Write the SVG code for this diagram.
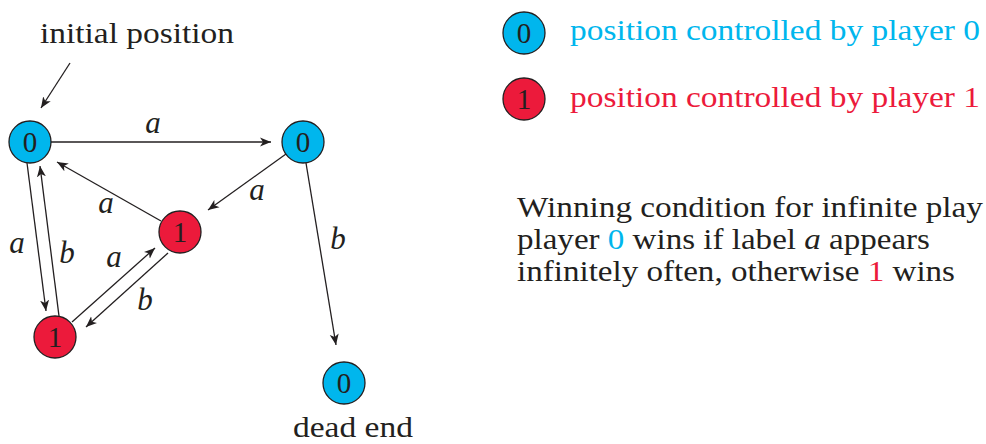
<svg xmlns="http://www.w3.org/2000/svg" width="986" height="444" viewBox="0 0 986 444">
<style>
text{font-family:"Liberation Serif","Times New Roman",serif;fill:#231f20}
.t{font-size:30px}
.lab{font-size:31px;font-style:italic}
.num{font-size:29px;text-anchor:middle}
.p0{fill:#00b6ed;stroke:#231f20;stroke-width:1.3}
.p1{fill:#ec1a3b;stroke:#231f20;stroke-width:1.3}
.e{stroke:#231f20;stroke-width:1.3;fill:none;marker-end:url(#arr)}
.cy{fill:#00b6ed}
.rd{fill:#ec1a3b}
</style>
<defs>
<marker id="arr" viewBox="-11 -5 12 10" refX="0" refY="0" markerWidth="12" markerHeight="10" markerUnits="userSpaceOnUse" orient="auto">
<path d="M0,0 L-11,-4.5 L-8,0 L-11,4.5 Z" fill="#231f20"/>
</marker>
</defs>
<g id="connectors">
<path class="e" d="M70,63 L41,108"/>
<path class="e" d="M51,142 L271,142"/>
<path class="e" d="M286,154 L208,210"/>
<path class="e" d="M161,221 L57,162"/>
<path class="e" d="M27,163 L46,311"/>
<path class="e" d="M59,316 L40,166"/>
<path class="e" d="M72,322 L155,248"/>
<path class="e" d="M168,253 L86,327"/>
<path class="e" d="M306,163 L336,345"/>
<text class="lab" x="153" y="133" text-anchor="middle">a</text>
<text class="lab" x="257" y="200" text-anchor="middle">a</text>
<text class="lab" x="106" y="213" text-anchor="middle">a</text>
<text class="lab" x="17" y="253" text-anchor="middle">a</text>
<text class="lab" x="67" y="263" text-anchor="middle">b</text>
<text class="lab" x="114" y="267" text-anchor="middle">a</text>
<text class="lab" x="145" y="310" text-anchor="middle">b</text>
<text class="lab" x="338" y="249" text-anchor="middle">b</text>
</g>
<g id="initial-label"><text class="t" x="40" y="43" textLength="194" lengthAdjust="spacingAndGlyphs">initial position</text></g>
<g id="nA"><circle class="p0" cx="30" cy="142" r="21"/><text class="num" x="30" y="152">0</text></g>
<g id="nB"><circle class="p0" cx="303" cy="142" r="21"/><text class="num" x="303" y="152">0</text></g>
<g id="nC"><circle class="p1" cx="180" cy="232" r="21"/><text class="num" x="180" y="242">1</text></g>
<g id="nD"><circle class="p1" cx="55" cy="337" r="21"/><text class="num" x="55" y="347">1</text></g>
<g id="nE"><circle class="p0" cx="344" cy="383" r="21"/><text class="num" x="344" y="393">0</text><text class="t" x="293" y="437" textLength="120" lengthAdjust="spacingAndGlyphs">dead end</text></g>
<g id="legend0"><circle class="p0" cx="524" cy="33" r="21"/><text class="num" x="524" y="43">0</text><text class="t cy" x="570" y="40" textLength="410" lengthAdjust="spacingAndGlyphs">position controlled by player 0</text></g>
<g id="legend1"><circle class="p1" cx="524" cy="99" r="21"/><text class="num" x="524" y="109">1</text><text class="t rd" x="570" y="107" textLength="410" lengthAdjust="spacingAndGlyphs">position controlled by player 1</text></g>
<g id="condition">
<text class="t" x="517" y="217" textLength="466" lengthAdjust="spacingAndGlyphs">Winning condition for infinite play</text>
<text class="t" x="517" y="249" textLength="413" lengthAdjust="spacingAndGlyphs">player <tspan class="cy">0</tspan> wins if label <tspan font-style="italic">a</tspan> appears</text>
<text class="t" x="517" y="281" textLength="438" lengthAdjust="spacingAndGlyphs">infinitely often, otherwise <tspan class="rd">1</tspan> wins</text>
</g>
</svg>
